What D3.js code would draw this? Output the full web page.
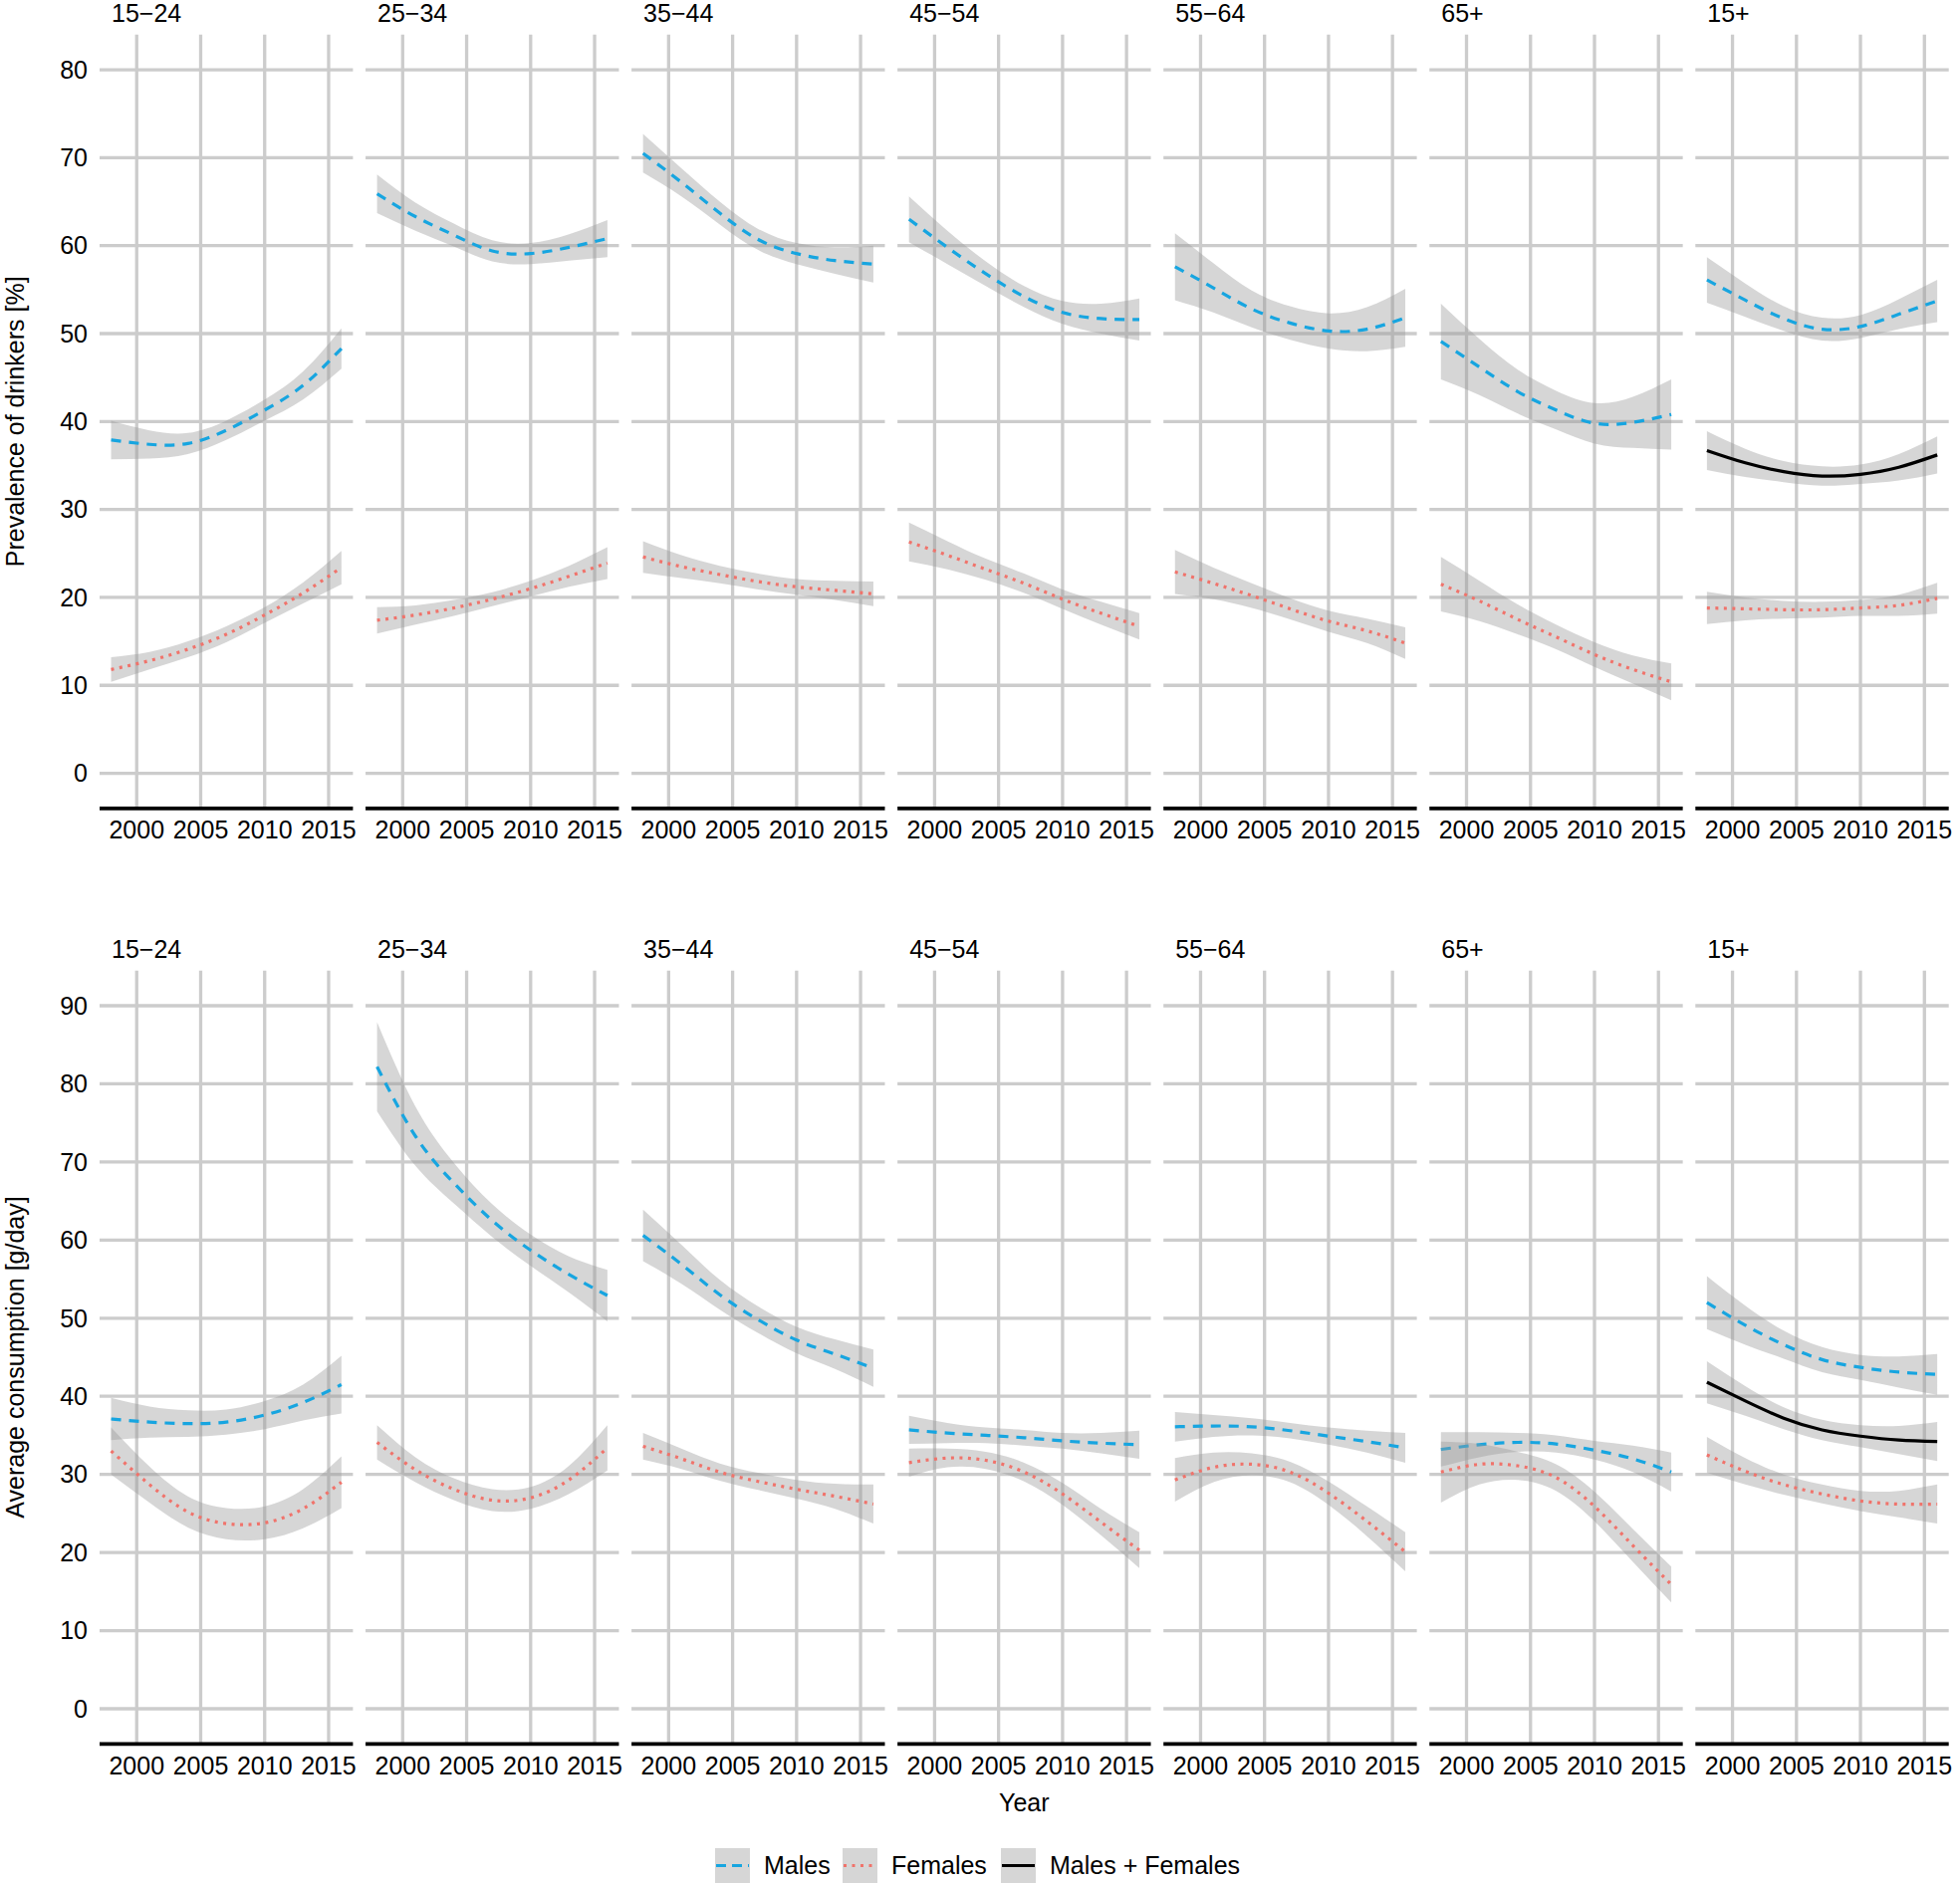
<!DOCTYPE html>
<html>
<head>
<meta charset="utf-8">
<script src="https://cdn.jsdelivr.net/npm/d3@7"></script>
<style>
body { margin: 0; background: #fff; }
text { font-family: "Liberation Sans", Arial, sans-serif; fill: #000; font-size: 25px; }
</style>
</head>
<body>
<div id="chart"></div>
<script>
// facets and axes
var ageGroups = ["15−24", "25−34", "35−44", "45−54", "55−64", "65+", "15+"]
var years = [1998, 2001, 2004, 2007, 2010, 2013, 2016]
var yearTicks = [2000, 2005, 2010, 2015]
var prevTicks = [0, 10, 20, 30, 40, 50, 60, 70, 80]
var consTicks = [0, 10, 20, 30, 40, 50, 60, 70, 80, 90]

// prevalence of drinkers [%] - smoothed fit and half width of the band, one row per age group
var prevMales = [
	[37.9, 37.4, 37.5, 39.0, 41.3, 44.1, 48.3],
	[65.9, 63.3, 61.2, 59.4, 59.1, 59.8, 60.8],
	[70.5, 67.2, 63.7, 60.7, 59.1, 58.3, 57.9],
	[63.0, 59.8, 56.8, 54.2, 52.4, 51.7, 51.6],
	[57.6, 55.2, 52.8, 51.2, 50.3, 50.5, 51.8],
	[49.1, 46.2, 43.4, 41.3, 39.8, 39.9, 40.8],
	[56.1, 53.8, 51.7, 50.5, 50.8, 52.2, 53.7]
]
var prevMalesSe = [
	[2.2, 1.6, 1.2, 1.1, 1.2, 1.6, 2.3],
	[2.2, 1.6, 1.3, 1.2, 1.2, 1.5, 2.1],
	[2.2, 1.6, 1.3, 1.2, 1.2, 1.5, 2.1],
	[2.6, 1.9, 1.4, 1.2, 1.3, 1.7, 2.4],
	[3.8, 2.8, 2.1, 1.9, 2.0, 2.5, 3.3],
	[4.3, 3.2, 2.5, 2.2, 2.3, 2.9, 4.0],
	[2.6, 1.9, 1.4, 1.3, 1.3, 1.7, 2.4]
]
var prevFemales = [
	[11.8, 12.8, 14.1, 15.8, 18.0, 20.5, 23.4],
	[17.4, 18.0, 18.8, 19.8, 21.0, 22.4, 23.9],
	[24.6, 23.5, 22.6, 21.8, 21.2, 20.8, 20.4],
	[26.3, 24.8, 23.2, 21.6, 19.8, 18.2, 16.7],
	[22.9, 21.6, 20.2, 18.7, 17.3, 16.2, 14.8],
	[21.5, 19.6, 17.5, 15.5, 13.5, 11.8, 10.4],
	[18.8, 18.7, 18.6, 18.6, 18.8, 19.1, 19.9]
]
var prevFemalesSe = [
	[1.4, 1.0, 0.9, 0.9, 0.9, 1.2, 1.9],
	[1.5, 1.1, 0.9, 0.8, 0.9, 1.2, 1.8],
	[1.8, 1.3, 1.0, 0.9, 0.9, 1.1, 1.4],
	[2.2, 1.6, 1.2, 1.1, 1.1, 1.3, 1.5],
	[2.5, 1.8, 1.4, 1.2, 1.2, 1.4, 1.8],
	[3.1, 2.3, 1.7, 1.4, 1.4, 1.6, 2.1],
	[1.85, 1.3, 1.0, 0.9, 0.9, 1.2, 1.75]
]
// males + females only exists for 15+
var prevBoth = [36.7, 35.3, 34.3, 33.8, 34.0, 34.8, 36.2]
var prevBothSe = [2.2, 1.6, 1.2, 1.1, 1.1, 1.5, 2.1]

// average consumption [g/day]
var consMales = [
	[37.1, 36.7, 36.5, 36.7, 37.6, 39.2, 41.5],
	[82.2, 73.3, 67.3, 62.5, 58.7, 55.6, 52.9],
	[60.6, 56.9, 53.0, 49.8, 47.2, 45.4, 43.6],
	[35.7, 35.3, 35.0, 34.7, 34.3, 34.0, 33.8],
	[36.1, 36.2, 36.1, 35.6, 34.9, 34.2, 33.4],
	[33.2, 33.8, 34.1, 33.9, 33.1, 32.0, 30.3],
	[52.0, 49.1, 46.6, 44.7, 43.7, 43.1, 42.8]
]
var consMalesSe = [
	[2.7, 2.0, 1.7, 1.6, 1.8, 2.3, 3.7],
	[5.7, 3.8, 2.6, 2.1, 2.0, 2.3, 3.3],
	[3.3, 2.5, 1.9, 1.7, 1.7, 1.9, 2.4],
	[1.8, 1.3, 1.0, 1.0, 1.0, 1.3, 1.8],
	[1.9, 1.4, 1.1, 1.0, 1.1, 1.4, 1.9],
	[2.2, 1.6, 1.2, 1.1, 1.2, 1.7, 2.5],
	[3.4, 2.5, 1.8, 1.6, 1.6, 2.0, 2.6]
]
var consFemales = [
	[33.0, 28.7, 25.2, 23.7, 23.8, 25.6, 29.0],
	[34.1, 30.6, 28.1, 26.7, 27.0, 29.3, 33.4],
	[33.6, 32.0, 30.3, 29.1, 28.1, 27.2, 26.2],
	[31.5, 32.1, 31.8, 30.3, 27.5, 23.9, 20.3],
	[29.3, 30.9, 31.3, 30.3, 27.6, 24.0, 20.1],
	[30.3, 31.3, 31.1, 29.6, 25.9, 20.9, 15.9],
	[32.5, 30.4, 28.7, 27.5, 26.6, 26.2, 26.2]
]
var consFemalesSe = [
	[3.0, 2.3, 2.0, 2.0, 2.1, 2.5, 3.3],
	[2.2, 1.6, 1.4, 1.4, 1.4, 1.8, 2.9],
	[1.7, 1.3, 1.1, 1.1, 1.2, 1.6, 2.5],
	[1.8, 1.2, 1.1, 1.2, 1.4, 1.7, 2.3],
	[2.8, 1.9, 1.4, 1.3, 1.5, 1.9, 2.5],
	[3.9, 2.6, 1.8, 1.7, 1.9, 2.1, 2.3],
	[2.3, 1.7, 1.3, 1.2, 1.3, 1.7, 2.5]
]
var consBoth = [41.8, 39.4, 37.2, 35.7, 34.9, 34.4, 34.2]
var consBothSe = [2.7, 1.9, 1.4, 1.3, 1.4, 1.8, 2.5]

var seriesStyle = {
	"Males": {color: "#17a5e0", dash: "10,8"},
	"Females": {color: "#f0736b", dash: "3,5.5"},
	"Males + Females": {color: "#000000", dash: null}
}

var W = 1968, H = 1892
var gridCol = "#cccccc"

var svg = d3.select("#chart")
	.append("svg")
	.attr("width", W)
	.attr("height", H)

// one band per facet
var xPanel = d3.scaleBand()
	.domain(ageGroups)
	.range([100, 1956.7])
	.paddingInner(0.0474)
	.paddingOuter(0)

var x = d3.scaleLinear()
	.domain([1997.1, 2016.9])
	.range([0, xPanel.bandwidth()])

var rows = [
	{title: "Prevalence of drinkers [%]", ticks: prevTicks,
	 y: d3.scaleLinear().domain([-4, 84]).range([811.9, 34.7]),
	 males: prevMales, malesSe: prevMalesSe, females: prevFemales, femalesSe: prevFemalesSe,
	 both: prevBoth, bothSe: prevBothSe},
	{title: "Average consumption [g/day]", ticks: consTicks,
	 y: d3.scaleLinear().domain([-4.5, 94.5]).range([1751.3, 974.7]),
	 males: consMales, malesSe: consMalesSe, females: consFemales, femalesSe: consFemalesSe,
	 both: consBoth, bothSe: consBothSe}
]

rows.forEach(function(row) {
	var y = row.y
	var yBottom = y.range()[0], yTop = y.range()[1]

	// y tick labels (only left of first panel)
	svg.append("g").selectAll("text")
		.data(row.ticks)
		.enter().append("text")
		.attr("x", 88)
		.attr("y", function(d) {return y(d)})
		.attr("dy", "0.35em")
		.attr("text-anchor", "end")
		.text(function(d) {return d})

	// y title
	svg.append("text")
		.attr("transform", "translate(24," + ((yTop + yBottom) / 2) + ") rotate(-90)")
		.attr("text-anchor", "middle")
		.text(row.title)

	ageGroups.forEach(function(g, i) {
		var px = xPanel(g)
		var pw = xPanel.bandwidth()
		var panel = svg.append("g").attr("transform", "translate(" + px + ",0)")

		// grid
		panel.selectAll(".hgrid")
			.data(row.ticks)
			.enter().append("line")
			.attr("x1", 0).attr("x2", pw)
			.attr("y1", function(d) {return y(d)})
			.attr("y2", function(d) {return y(d)})
			.style("stroke", gridCol)
			.style("stroke-width", 3.3)
		panel.selectAll(".vgrid")
			.data(yearTicks)
			.enter().append("line")
			.attr("x1", function(d) {return x(d)})
			.attr("x2", function(d) {return x(d)})
			.attr("y1", yTop).attr("y2", yBottom)
			.style("stroke", gridCol)
			.style("stroke-width", 3.3)

		// series for this facet
		var series = [
			{key: "Males", fit: row.males[i], se: row.malesSe[i]},
			{key: "Females", fit: row.females[i], se: row.femalesSe[i]}
		]
		if (g == "15+") series.push({key: "Males + Females", fit: row.both, se: row.bothSe})

		series.forEach(function(s) {
			s.pts = years.map(function(yr, j) {return {yr: yr, v: s.fit[j], se: s.se[j]}})
		})

		var area = d3.area()
			.x(function(d) {return x(d.yr)})
			.y0(function(d) {return y(d.v - d.se)})
			.y1(function(d) {return y(d.v + d.se)})
			.curve(d3.curveNatural)
		var line = d3.line()
			.x(function(d) {return x(d.yr)})
			.y(function(d) {return y(d.v)})
			.curve(d3.curveNatural)

		series.forEach(function(s) {
			panel.append("path")
				.attr("d", area(s.pts))
				.style("fill", "#999999")
				.style("fill-opacity", 0.4)
			panel.append("path")
				.attr("d", line(s.pts))
				.style("fill", "none")
				.style("stroke", seriesStyle[s.key].color)
				.style("stroke-width", 3.2)
				.style("stroke-dasharray", seriesStyle[s.key].dash)
		})

		// bottom axis line
		panel.append("line")
			.attr("x1", 0).attr("x2", pw)
			.attr("y1", yBottom).attr("y2", yBottom)
			.style("stroke", "#000")
			.style("stroke-width", 3.8)

		panel.selectAll(".xlab")
			.data(yearTicks)
			.enter().append("text")
			.attr("x", function(d) {return x(d)})
			.attr("y", yBottom + 21.6)
			.attr("dy", "0.35em")
			.attr("text-anchor", "middle")
			.text(function(d) {return d})

		// strip label
		panel.append("text")
			.attr("x", 12)
			.attr("y", yTop - 12.3)
			.text(g)
	})
})

// x title
svg.append("text")
	.attr("x", (100 + 1956.7) / 2)
	.attr("y", 1810)
	.attr("dy", "0.35em")
	.attr("text-anchor", "middle")
	.text("Year")

// legend
var legendKeys = ["Males", "Females", "Males + Females"]
var legendX = [718, 846, 1005]
var legend = svg.append("g").attr("transform", "translate(0,1856)")
legendKeys.forEach(function(k, i) {
	var lg = legend.append("g").attr("transform", "translate(" + legendX[i] + ",0)")
	lg.append("rect")
		.attr("width", 35).attr("height", 35)
		.style("fill", "#999999")
		.style("fill-opacity", 0.4)
	lg.append("line")
		.attr("x1", 1).attr("x2", 34)
		.attr("y1", 17.5).attr("y2", 17.5)
		.style("stroke", seriesStyle[k].color)
		.style("stroke-width", 3.2)
		.style("stroke-dasharray", k == "Males" ? "10,6" : seriesStyle[k].dash)
	lg.append("text")
		.attr("x", 49)
		.attr("y", 17.5)
		.attr("dy", "0.35em")
		.text(k)
})
</script>
</body>
</html>
